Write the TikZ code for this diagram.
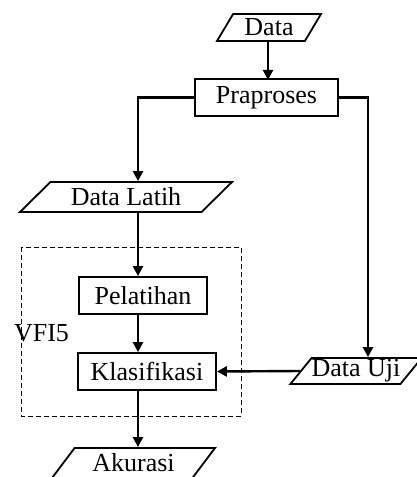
\documentclass[tikz,border=0pt]{standalone}
\usepackage{fontspec}
\setmainfont{Liberation Serif}
\usetikzlibrary{shapes.geometric,arrows.meta}
\begin{document}
\begin{tikzpicture}[x=1pt,y=-1pt,font=\fontsize{26}{30}\selectfont,
    proc/.style={draw,line width=1.8pt,inner sep=0pt},
    io/.style={draw,line width=1.8pt,shape=trapezium,inner sep=0pt,trapezium stretches body=true},
    arr/.style={line width=2.4pt,-{Triangle[length=10pt,width=10pt]}}]
        \useasboundingbox (0,0) rectangle (417,477);
        %% Columns of the connectors
        \coordinate (spine) at (138,0);
        \coordinate (rail) at (368,0);
        %% Input and preprocessing
        \node[io,trapezium left angle=47,trapezium right angle=133,minimum height=27pt,minimum width=104pt] (Data) at (269,27.5) {Data};
        \node[proc,minimum width=143pt,minimum height=37pt] (Praproses) at (266.5,97.5) {Praproses};
        \node[io,trapezium left angle=31,trapezium right angle=149,minimum height=30pt,minimum width=212pt] (DataLatih) at (126,197) {Data Latih};
        \node[io,trapezium left angle=47,trapezium right angle=133,minimum height=26pt,minimum width=126pt] (DataUji) at (356,371) {Data Uji};
        %% VFI5 block
        \draw[line width=1pt,dash pattern=on 5pt off 3pt] (21,247) rectangle (241,416);
        \node (VFI) at (41.5,333) {VFI5};
        \node[proc,minimum width=128pt,minimum height=37pt] (Pelatihan) at (143,295.5) {Pelatihan};
        \node[proc,minimum width=138pt,minimum height=37pt] (Klasifikasi) at (147,371.5) {Klasifikasi};
        \node[io,trapezium left angle=39,trapezium right angle=141,minimum height=30pt,minimum width=163pt] (Akurasi) at (133.5,463) {Akurasi};
        %% Connectors
        \draw[arr] (Data.south -| Praproses.north) ++(1.5,0) -- ++(0,38);
        \draw[arr] (Praproses.west) -| (spine |- DataLatih.north);
        \draw[arr] (Praproses.east) -| (rail |- DataUji.north);
        \draw[arr] (spine |- DataLatih.south) -- (spine |- Pelatihan.north);
        \draw[arr] (spine |- Pelatihan.south) -- (spine |- Klasifikasi.north);
        \draw[arr] (DataUji.west) -- (Klasifikasi.east);
        \draw[arr] (spine |- Klasifikasi.south) -- (spine |- Akurasi.north);
    \end{tikzpicture}
\end{document}
